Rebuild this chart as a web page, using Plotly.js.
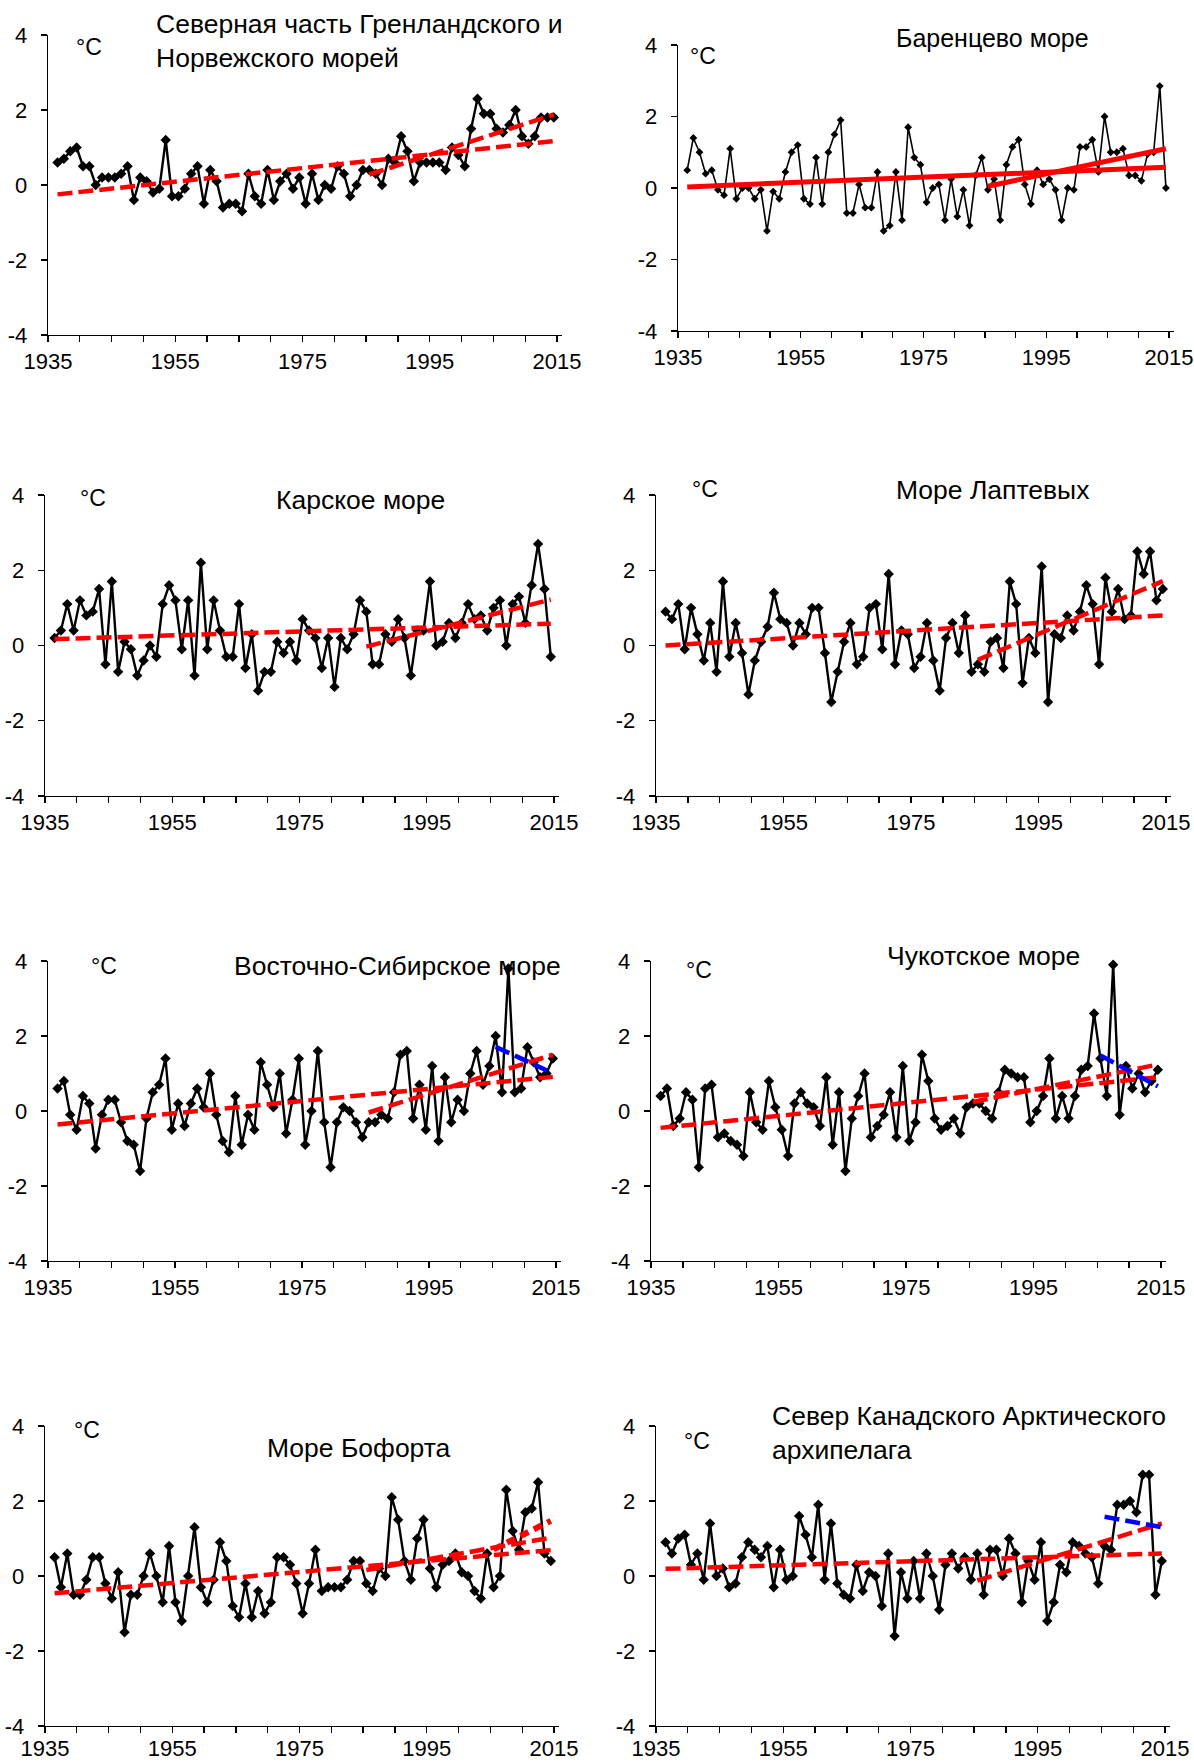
<!DOCTYPE html>
<html><head><meta charset="utf-8">
<script src="https://cdn.plot.ly/plotly-3.0.1.min.js"></script>
<style>html,body{margin:0;padding:0;background:#fff;}#chart{width:1194px;height:1762px;}</style>
</head><body><div id="chart"></div>
<script>
// ---- data: annual anomalies, °C (years 1937..2015) ----
const firstYear = 1937, lastYear = 2015;
const years = [];
for (let y = firstYear; y <= lastYear; y++) years.push(y);

const greenlandNorway = [0.6,0.7,0.9,1.0,0.5,0.5,0.0,0.2,0.2,0.2, 0.3,0.5,-0.4,0.2,0.1,-0.2,-0.1,1.2,-0.3,-0.3, -0.1,0.3,0.5,-0.5,0.4,0.1,-0.6,-0.5,-0.5,-0.7, 0.3,-0.3,-0.5,0.4,-0.4,0.1,0.3,-0.1,0.2,-0.5, 0.3,-0.4,0.0,-0.1,0.5,0.3,-0.3,0.0,0.4,0.4, 0.3,0.0,0.7,0.6,1.3,0.9,0.1,0.6,0.6,0.6, 0.6,0.4,1.0,0.8,0.5,1.5,2.3,1.9,1.9,1.5, 1.4,1.6,2.0,1.3,1.1,1.3,1.8,1.8,1.8];
const barents = [0.5,1.4,1.0,0.4,0.5,-0.05,-0.2,1.1,-0.3,0.0, 0.0,-0.3,-0.05,-1.2,-0.1,-0.3,0.45,1.0,1.2,-0.3, -0.45,0.85,-0.45,1.0,1.5,1.9,-0.7,-0.7,0.1,-0.55, -0.55,0.45,-1.2,-1.05,0.45,-0.9,1.7,0.85,0.65,-0.4, 0.0,0.1,-0.9,0.25,-0.8,-0.05,-1.05,0.35,0.85,-0.05, 0.25,-0.9,0.65,1.15,1.35,0.1,-0.45,0.5,0.1,0.25, -0.05,-0.9,0.0,-0.05,1.15,1.15,1.35,0.45,2.0,1.0, 1.0,1.1,0.35,0.35,0.2,0.95,1.0,2.85,0.0];
const kara = [0.2,0.4,1.1,0.4,1.2,0.8,0.9,1.5,-0.5,1.7, -0.7,0.1,-0.1,-0.8,-0.4,0.0,-0.3,1.1,1.6,1.2, -0.1,1.2,-0.8,2.2,-0.1,1.2,0.4,-0.3,-0.3,1.1, -0.6,0.3,-1.2,-0.7,-0.7,0.1,-0.2,0.1,-0.4,0.7, 0.4,0.2,-0.6,0.2,-1.1,0.2,-0.1,0.3,1.2,0.9, -0.5,-0.5,0.3,0.1,0.7,0.2,-0.8,0.4,0.4,1.7, 0.0,0.1,0.6,0.2,0.6,1.1,0.7,0.8,0.4,1.0, 1.2,0.0,1.1,1.3,0.6,1.6,2.7,1.5,-0.3];
const laptev = [0.9,0.7,1.1,-0.1,1.0,0.3,-0.4,0.6,-0.7,1.7, -0.3,0.6,-0.2,-1.3,-0.4,0.1,0.5,1.4,0.7,0.6, 0.0,0.6,0.3,1.0,1.0,-0.2,-1.5,-0.7,0.1,0.6, -0.5,-0.3,1.0,1.1,-0.1,1.9,-0.5,0.4,0.3,-0.6, -0.3,0.6,-0.4,-1.2,0.2,0.6,-0.2,0.8,-0.7,-0.5, -0.7,0.1,0.2,-0.6,1.7,1.1,-1.0,0.2,-0.2,2.1, -1.5,0.3,0.2,0.8,0.4,0.9,1.6,1.1,-0.5,1.8, 0.9,1.5,0.7,0.8,2.5,1.9,2.5,1.2,1.5];
const eastSiberian = [0.6,0.8,-0.1,-0.5,0.4,0.2,-1.0,-0.1,0.3,0.3, -0.3,-0.8,-0.9,-1.6,-0.2,0.5,0.7,1.4,-0.5,0.2, -0.4,0.2,0.6,0.1,1.0,-0.1,-0.8,-1.1,0.4,-0.9, -0.1,-0.5,1.3,0.7,0.1,1.0,-0.6,0.3,1.4,-0.9, 0.0,1.6,-0.3,-1.5,-0.3,0.1,0.0,-0.3,-0.7,-0.3, -0.3,-0.1,-0.2,0.5,1.5,1.6,-0.2,0.7,-0.5,1.2, -0.8,0.9,-0.3,0.3,0.0,1.0,1.6,0.7,1.2,2.0, 0.5,3.8,0.5,0.6,1.7,1.3,0.9,1.0,1.4];
const chukchi = [0.4,0.6,-0.4,-0.2,0.5,0.3,-1.5,0.6,0.7,-0.7, -0.6,-0.8,-0.9,-1.2,0.5,-0.3,-0.5,0.8,0.1,-0.5, -1.2,0.2,0.5,0.2,0.1,-0.4,0.9,-0.9,0.5,-1.6, -0.2,0.4,1.0,-0.7,-0.4,-0.1,0.5,-0.7,1.2,-0.8, -0.3,1.5,0.8,-0.2,-0.5,-0.4,-0.2,-0.6,0.1,0.2, 0.2,0.0,-0.2,0.5,1.1,1.0,0.9,0.9,-0.3,0.0, 0.4,1.4,-0.2,0.4,-0.2,0.4,1.1,1.2,2.6,1.4, 0.4,3.9,-0.1,1.2,0.6,1.0,0.5,0.8,1.1];
const beaufort = [0.5,-0.3,0.6,-0.5,-0.5,-0.1,0.5,0.5,-0.2,-0.6, 0.1,-1.5,-0.5,-0.5,0.0,0.6,0.0,-0.7,0.8,-0.7, -1.2,0.0,1.3,-0.3,-0.7,-0.1,0.9,0.4,-0.8,-1.1, -0.2,-1.1,-0.4,-1.0,-0.7,0.5,0.5,0.3,-0.2,-1.0, -0.2,0.7,-0.4,-0.3,-0.3,-0.3,-0.1,0.4,0.4,-0.2, -0.4,0.2,0.0,2.1,1.5,0.4,-0.1,1.0,1.5,0.2, -0.3,0.3,0.4,0.6,0.1,0.0,-0.4,-0.6,0.6,-0.3, 0.0,2.3,1.2,0.7,1.7,1.8,2.5,0.6,0.4];
const canadianArchipelago = [0.9,0.6,1.0,1.1,0.3,0.6,-0.1,1.4,0.0,0.2, -0.3,-0.2,0.5,0.9,0.7,0.5,0.8,-0.3,0.7,-0.1, 0.0,1.6,1.1,0.5,1.9,-0.1,1.4,-0.2,-0.5,-0.6, 0.3,-0.4,0.1,0.0,-0.8,0.6,-1.6,0.1,-0.6,0.4, -0.6,0.6,0.0,-0.9,0.3,0.6,0.2,0.5,-0.1,0.6, -0.5,0.7,0.7,0.0,1.0,0.6,-0.7,0.4,-0.1,0.9, -1.2,-0.7,0.3,0.1,0.9,0.8,0.6,0.5,-0.2,0.8, 0.7,1.9,1.9,2.0,1.7,2.7,2.7,-0.5,0.4];

// trend periods (start year .. last year) and trend values at start / end
const trendStartLong = 1937, trendStart30 = 1986, trendStart10 = 2006;
const greenlandTrendLong = [-0.25, 1.17], greenlandTrend30 = [0.28, 1.88];
const barentsTrendLong = [0.03, 0.58], barentsTrend30 = [0.05, 1.10];
const karaTrendLong = [0.17, 0.58], karaTrend30 = [-0.03, 1.22];
const laptevTrendLong = [0.0, 0.80], laptevTrend30 = [-0.38, 1.71];
const eastSibTrendLong = [-0.36, 0.91], eastSibTrend30 = [-0.04, 1.50], eastSibTrend10 = [1.71, 1.01];
const chukchiTrendLong = [-0.45, 0.90], chukchiTrend30 = [0.24, 1.24], chukchiTrend10 = [1.48, 0.66];
const beaufortTrendLong = [-0.46, 0.69], beaufortTrend30 = [0.16, 1.02], beaufortTrend10 = [0.71, 1.47];
const canadaTrendLong = [0.19, 0.60], canadaTrend30 = [-0.12, 1.40], canadaTrend10 = [1.58, 1.30];

const titles = ["Северная часть Гренландского и<br>Норвежского морей", "Баренцево море", "Карское море", "Море Лаптевых",
  "Восточно-Сибирское море", "Чукотское море", "Море Бофорта", "Север Канадского Арктического<br>архипелага"];
const unitLabel = "°C";
const xTickLabelYears = [1935, 1955, 1975, 1995, 2015];
const yTickValues = [-4, -2, 0, 2, 4];
const yTickText = ["-4", "-2", "0", "2", "4"];

// ---- layout geometry (pixels) ----
const W = 1194, H = 1762;
const FONT = "Liberation Sans, Arial, sans-serif";
const RED = "#ff0000", BLUE = "#0000ff";
const TICK_SIZE = 22, TITLE_SIZE = 26.5, UNIT_SIZE = 23;
const panels = [
  {L:48, R:557, T:35, B:335, data:greenlandNorway, trends:[[trendStartLong,greenlandTrendLong,RED],[trendStart30,greenlandTrend30,RED]], tx:154, ty:41, ux:74, uy:47},
  {L:678, R:1169, T:45, B:331, data:barents, thin:true, solid:true, tsize:25, trends:[[trendStartLong,barentsTrendLong,RED],[trendStart30,barentsTrend30,RED]], tx:894, ty:38, ux:688, uy:56},
  {L:45, R:554, T:495, B:796, data:kara, trends:[[trendStartLong,karaTrendLong,RED],[trendStart30,karaTrend30,RED]], tx:274, ty:500, ux:78, uy:498},
  {L:656, R:1166, T:495, B:796, data:laptev, trends:[[trendStartLong,laptevTrendLong,RED],[trendStart30,laptevTrend30,RED]], tx:894, ty:490, ux:690, uy:489},
  {L:48, R:556, T:961, B:1261, data:eastSiberian, trends:[[trendStartLong,eastSibTrendLong,RED],[trendStart30,eastSibTrend30,RED],[trendStart10,eastSibTrend10,BLUE]], tx:232, ty:966, ux:89, uy:966},
  {L:651, R:1161, T:961, B:1261, data:chukchi, trends:[[trendStartLong,chukchiTrendLong,RED],[trendStart30,chukchiTrend30,RED],[trendStart10,chukchiTrend10,BLUE]], tx:885, ty:956, ux:684, uy:970},
  {L:45, R:554, T:1426, B:1726, data:beaufort, xstand:-4, trends:[[trendStartLong,beaufortTrendLong,RED],[trendStart30,beaufortTrend30,RED],[trendStart10,beaufortTrend10,RED,true]], tx:265, ty:1448, ux:72, uy:1430},
  {L:656, R:1165, T:1426, B:1726, data:canadianArchipelago, xstand:-4, trends:[[trendStartLong,canadaTrendLong,RED],[trendStart30,canadaTrend30,RED],[trendStart10,canadaTrend10,BLUE]], tx:770, ty:1433, ux:682, uy:1441}
];

// categories sit between tick marks: year N occupies [N-1, N]
const pos = y => y - 0.5;
const X0 = 1935, X1 = 2015, XEXT = 0.8;

const traces = [], annotations = [];
const layout = {width: W, height: H, margin: {l:0, r:0, t:0, b:0}, showlegend: false,
  paper_bgcolor: "#fff", plot_bgcolor: "rgba(0,0,0,0)", font: {family: FONT, color: "#000"}, annotations};

const xTickVals = [], xTickText = [];
for (let y = X0; y <= X1; y += 5) { xTickVals.push(y); xTickText.push(xTickLabelYears.includes(y) ? String(y) : ""); }

panels.forEach((p, i) => {
  const n = i + 1, xa = "x" + (n === 1 ? "" : n), ya = "y" + (n === 1 ? "" : n);
  const pxPerYear = (p.R - p.L) / (X1 - X0);
  layout["xaxis" + (n === 1 ? "" : n)] = {
    domain: [p.L / W, (p.R + XEXT * pxPerYear) / W], range: [X0, X1 + XEXT], anchor: ya,
    showline: true, linecolor: "#000", linewidth: 1.3, ticks: "outside", ticklen: 6, tickwidth: 1.3, tickcolor: "#000",
    tickmode: "array", tickvals: xTickVals, ticktext: xTickText, showgrid: false, zeroline: false,
    tickfont: {family: FONT, size: TICK_SIZE, color: "#000"}, ticklabelstandoff: p.xstand || 0
  };
  layout["yaxis" + (n === 1 ? "" : n)] = {
    domain: [1 - p.B / H, 1 - p.T / H], range: [-4, 4], anchor: xa,
    showline: true, linecolor: "#000", linewidth: 1.3, ticks: "outside", ticklen: 6, tickwidth: 1.3, tickcolor: "#000",
    tickmode: "array", tickvals: yTickValues, ticktext: yTickText, showgrid: false, zeroline: false,
    tickfont: {family: FONT, size: TICK_SIZE, color: "#000"}, ticklabelstandoff: 9
  };
  traces.push({x: years.map(pos), y: p.data, xaxis: xa, yaxis: ya, mode: "lines+markers", cliponaxis: false,
    line: {color: "#000", width: p.thin ? 1.6 : 2.4},
    marker: {symbol: "diamond", size: p.thin ? 6 : 8, color: "#000"}});
  p.trends.forEach(([start, vals, color, heavy]) => {
    traces.push({x: [pos(start), pos(lastYear)], y: vals, xaxis: xa, yaxis: ya, mode: "lines",
      line: {color: color, width: heavy ? 6 : (p.solid ? 5 : 4.5), dash: p.solid ? "solid" : (heavy ? "9px,6px" : "15px,6px")}});
  });
  annotations.push({text: titles[i], xref: "paper", yref: "paper", x: p.tx / W, y: 1 - p.ty / H,
    xanchor: "left", yanchor: "middle", align: "left", showarrow: false,
    font: {family: FONT, size: p.tsize || TITLE_SIZE, color: "#000"}});
  annotations.push({text: unitLabel, xref: "paper", yref: "paper", x: p.ux / W, y: 1 - p.uy / H,
    xanchor: "left", yanchor: "middle", showarrow: false, font: {family: FONT, size: UNIT_SIZE, color: "#000"}});
});

Plotly.newPlot("chart", traces, layout, {staticPlot: true, displayModeBar: false});
</script></body></html>
